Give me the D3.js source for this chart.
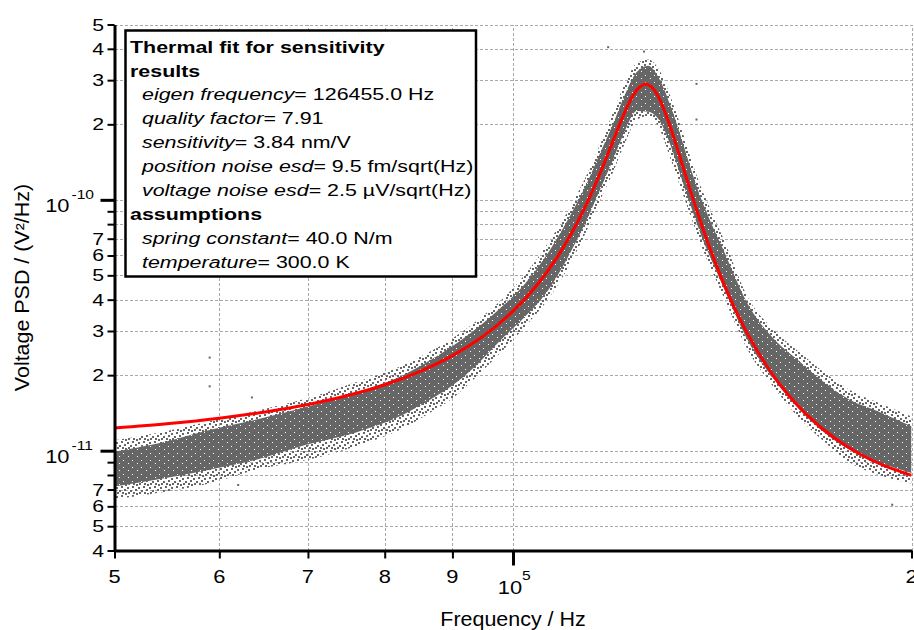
<!DOCTYPE html>
<html>
<head>
<meta charset="utf-8">
<script src="https://cdn.jsdelivr.net/npm/d3@7"></script>
<style>
  body { margin: 0; background: #fff; }
  svg text { font-family: "Liberation Sans", Arial, sans-serif; fill: #000; }
  .grid line { stroke: #a8a8a8; stroke-dasharray: 3,2; shape-rendering: crispEdges; }
  .axis path, .axis line { stroke: #000; }
  pattern rect { shape-rendering: crispEdges; }
</style>
</head>
<body>
<svg width="914" height="630"></svg>
<script>
var bandFreq   = [50000, 54000, 59000, 64000, 70000, 76000, 82600, 87000, 89500, 94000, 97800, 102000, 106600, 110000, 113500, 116500, 119000, 121500, 124000, 126500, 129000, 131500, 134000, 136500, 139000, 141000, 144000, 150800, 157000, 164700, 171000, 179500, 189000, 200000];
var fringeLow  = [6.4, 6.8, 7.4, 8.4, 9.2, 10.4, 12.3, 14.4, 15.8, 19.9, 24.5, 31, 41, 53.4, 74.1, 101, 128.6, 168.3, 208, 216, 192, 146, 109.7, 83.4, 63.9, 53.6, 41.8, 24.6, 18.2, 13.4, 11.1, 9.0, 8.0, 7.4];
var coreLow    = [7.2, 7.7, 8.4, 9.2, 10.6, 11.8, 13.9, 16.2, 17.8, 22.1, 27.5, 34, 44.5, 58.9, 81.7, 111.6, 144.1, 188.5, 226, 224.6, 207.2, 165.5, 122.6, 91.7, 70.2, 58.6, 45.6, 26.9, 19.6, 14.6, 12.05, 10.1, 9.0, 8.15];
var coreHigh   = [9.9, 10.7, 12.1, 13.3, 15.0, 17.0, 20.0, 23.3, 25.6, 30.9, 37.0, 46, 63, 83.2, 114, 155.8, 200.7, 262.5, 323, 342.7, 303.2, 237.5, 176.7, 129.2, 98.2, 82, 64.1, 37.6, 28.3, 22.6, 19.1, 16.0, 14.3, 12.5];
var fringeHigh = [11.0, 11.8, 13.1, 14.4, 16.2, 18.7, 21.9, 25.2, 27.5, 33.1, 39.5, 50, 69, 90.1, 123.5, 168.7, 223, 291.7, 350, 363, 328.5, 259, 193.8, 141.7, 109.1, 91.4, 71.2, 40.0, 30.7, 24.6, 20.9, 17.5, 15.5, 13.7];

// a few stray points well away from the band
var strayFreq = [59000, 59000, 63500, 62000, 118000, 125600, 137600, 137600, 193400];
var strayPsd  = [23.5, 18.05, 16.3, 7.3, 406, 390, 290, 209, 6.09];

// thermal fit curve (red)
var fitFreq = [50000, 55000, 60000, 65000, 70000, 75000, 80000, 85000, 90000, 95000, 100000, 104000, 108000, 111000, 114000, 117000, 119000, 121000, 123000, 124500, 126000, 126455, 127500, 129000, 131000, 133000, 136000, 139000, 142000, 146000, 150000, 155000, 160000, 167000, 175000, 183000, 191000, 200000];
var fitPsd  = [12.31, 12.83, 13.47, 14.27, 15.28, 16.59, 18.32, 20.66, 23.93, 28.69, 36.00, 45.04, 59.14, 75.40, 99.83, 137.1, 171.5, 213.3, 256.2, 280.4, 289.3, 288.2, 279.0, 252.7, 206.4, 161.8, 110.8, 77.96, 57.10, 40.11, 29.96, 22.32, 17.66, 13.76, 11.20, 9.66, 8.69, 7.97];

// ticks
var xTicks = [5e4, 6e4, 7e4, 8e4, 9e4, 1e5, 2e5];
var xTickLabels = ["5", "6", "7", "8", "9", "10|5", "2"];
var yTicks = [5e-10, 4e-10, 3e-10, 2e-10, 1e-10, 9e-11, 8e-11, 7e-11, 6e-11, 5e-11, 4e-11, 3e-11, 2e-11, 1e-11, 9e-12, 8e-12, 7e-12, 6e-12, 5e-12, 4e-12];
var yTickLabels = ["5", "4", "3", "2", "10|-10", "", "", "7", "6", "5", "4", "3", "2", "10|-11", "", "", "7", "6", "5", "4"];

var legendLines = [
  ["Thermal fit for sensitivity"],
  ["results"],
  ["eigen frequency", "= 126455.0 Hz"],
  ["quality factor", "= 7.91"],
  ["sensitivity", "= 3.84 nm/V"],
  ["position noise esd", "= 9.5 fm/sqrt(Hz)"],
  ["voltage noise esd", "= 2.5 \u00b5V/sqrt(Hz)"],
  ["assumptions"],
  ["spring constant", "= 40.0 N/m"],
  ["temperature", "= 300.0 K"]
];

var svg = d3.select("svg"),
    width = +svg.attr("width"),
    height = +svg.attr("height");

var margin = {left: 114.5, right: 2.5, top: 24.5, bottom: 79.5};
var plotW = width - margin.left - margin.right,
    plotH = height - margin.top - margin.bottom;

var x = d3.scaleLog().domain([5e4, 2e5]).range([margin.left, width - margin.right]);
var y = d3.scaleLog().domain([4e-12, 5e-10]).range([height - margin.bottom, margin.top]);

function p(v) { return v * 1e-12; }
function isDecade(d) { var l = Math.log10(d); return Math.abs(l - Math.round(l)) < 1e-6; }

// text drawn a bit wider than the font, like the original export
function wideText(parent, tx, ty, str, size, sx, anchor) {
  return parent.append("text")
    .attr("transform", "translate(" + tx + "," + ty + ") scale(" + sx + ",1)")
    .attr("font-size", size)
    .attr("text-anchor", anchor || "start")
    .text(str);
}

var defs = svg.append("defs");
defs.append("clipPath").attr("id", "plotclip")
  .append("rect")
    .attr("x", margin.left).attr("y", margin.top)
    .attr("width", plotW).attr("height", plotH);

// sparse dots for the ragged edges of the scatter
var fringe = defs.append("pattern")
    .attr("id", "fringe")
    .attr("patternUnits", "userSpaceOnUse")
    .attr("width", 11).attr("height", 9);
fringe.selectAll("rect")
  .data([[0, 0], [6, 1], [3, 3], [9, 4], [1, 6], [7, 6], [4, 7]])
  .enter().append("rect")
    .attr("x", function(d) { return d[0]; })
    .attr("y", function(d) { return d[1]; })
    .attr("width", 2).attr("height", 2)
    .attr("fill", "#666");

// dense core with a few white holes
var core = defs.append("pattern")
    .attr("id", "core")
    .attr("patternUnits", "userSpaceOnUse")
    .attr("width", 9).attr("height", 7);
core.append("rect").attr("width", 9).attr("height", 7).attr("fill", "#666");
core.selectAll("rect.hole")
  .data([[2, 1], [6, 5]])
  .enter().append("rect")
    .attr("class", "hole")
    .attr("x", function(d) { return d[0]; })
    .attr("y", function(d) { return d[1]; })
    .attr("width", 1).attr("height", 1)
    .attr("fill", "#fff");

// Grid lines
svg.append("g")
    .attr("class", "grid")
    .attr("transform", "translate(" + margin.left + ",0)")
    .call(d3.axisLeft(y).tickValues(yTicks.slice(0, -1)).tickSize(-plotW).tickFormat(""))
    .call(function(g) { g.select(".domain").remove(); });

svg.append("g")
    .attr("class", "grid")
    .attr("transform", "translate(0," + (height - margin.bottom) + ")")
    .call(d3.axisBottom(x).tickValues(xTicks.slice(1)).tickSize(-plotH).tickFormat(""))
    .call(function(g) { g.select(".domain").remove(); });

var plot = svg.append("g").attr("clip-path", "url(#plotclip)");

function band(lo, hi) {
  return d3.area()
    .x(function(d, i) { return x(bandFreq[i]); })
    .y0(function(d, i) { return y(p(lo[i])); })
    .y1(function(d, i) { return y(p(hi[i])); })
    .curve(d3.curveMonotoneX)(bandFreq);
}

plot.append("path").attr("d", band(fringeLow, fringeHigh)).attr("fill", "url(#fringe)");
plot.append("path").attr("d", band(coreLow, coreHigh)).attr("fill", "url(#core)");

plot.selectAll("rect.stray")
  .data(strayFreq)
  .enter().append("rect")
    .attr("class", "stray")
    .attr("x", function(d) { return x(d) - 1; })
    .attr("y", function(d, i) { return y(p(strayPsd[i])) - 1; })
    .attr("width", 2).attr("height", 2)
    .attr("fill", "#666");

// Fit curve
var fitLine = d3.line()
    .x(function(d) { return x(d); })
    .y(function(d, i) { return y(p(fitPsd[i])); })
    .curve(d3.curveCatmullRom);

plot.append("path")
    .attr("d", fitLine(fitFreq))
    .attr("fill", "none")
    .attr("stroke", "#ff0000")
    .attr("stroke-width", 3);

// Axes
var yAxis = svg.append("g")
    .attr("class", "axis")
    .attr("transform", "translate(" + margin.left + ",0)")
    .call(d3.axisLeft(y).tickValues(yTicks).tickSize(7).tickSizeOuter(0).tickFormat(""));
yAxis.select(".domain").attr("stroke-width", 3);
yAxis.selectAll(".tick line").attr("stroke-width", 2);
yAxis.selectAll(".tick line").filter(isDecade).attr("x2", -14).attr("stroke-width", 3);

var xAxis = svg.append("g")
    .attr("class", "axis")
    .attr("transform", "translate(0," + (height - margin.bottom) + ")")
    .call(d3.axisBottom(x).tickValues(xTicks).tickSize(8).tickSizeOuter(0).tickFormat(""));
xAxis.select(".domain").attr("stroke-width", 3);
xAxis.selectAll(".tick line").attr("stroke-width", 2);
xAxis.selectAll(".tick line").filter(isDecade).attr("y2", 15).attr("stroke-width", 3);

// Tick labels
yTicks.forEach(function(v, i) {
  var lab = yTickLabels[i];
  if (!lab) return;
  var ty = y(v);
  if (lab.indexOf("|") >= 0) {
    var parts = lab.split("|");
    wideText(svg, 69.5, ty + 12.5, parts[0], 17.5, 1.25, "end");
    wideText(svg, 71.5, ty - 0.5, parts[1], 12.5, 1.25, "start");
  } else {
    wideText(svg, 104, ty + 6, lab, 17, 1.25, "end");
  }
});

xTicks.forEach(function(v, i) {
  var lab = xTickLabels[i];
  var tx = x(v);
  if (lab.indexOf("|") >= 0) {
    var parts = lab.split("|");
    wideText(svg, tx - 3, 594, parts[0], 17.5, 1.25, "middle");
    wideText(svg, tx + 9, 580, parts[1], 12.5, 1.25, "start");
  } else {
    wideText(svg, tx, 583, lab, 17.5, 1.25, "middle");
  }
});

// Axis titles
wideText(svg, margin.left + plotW / 2, 626, "Frequency / Hz", 19.5, 1.1, "middle");
svg.append("text")
    .attr("transform", "translate(29," + (margin.top + plotH / 2) + ") rotate(-90) scale(1.1,1)")
    .attr("font-size", 19.5)
    .attr("text-anchor", "middle")
    .text("Voltage PSD / (V\u00b2/Hz)");

// Legend box
var legend = svg.append("g").attr("class", "legend");
legend.append("rect")
    .attr("x", 125.5).attr("y", 30.5)
    .attr("width", 350.5).attr("height", 246)
    .attr("fill", "#fff")
    .attr("stroke", "#000")
    .attr("stroke-width", 2.5);

legendLines.forEach(function(line, i) {
  var by = 52.6 + 23.9 * i;
  if (line.length === 1) {
    wideText(legend, 130, by, line[0], 17, 1.26, "start").attr("font-weight", "bold");
  } else {
    var t = wideText(legend, 142, by, "", 17, 1.26, "start");
    t.append("tspan").attr("font-style", "italic").text(line[0]);
    t.append("tspan").text(line[1]);
  }
});
</script>
</body>
</html>
